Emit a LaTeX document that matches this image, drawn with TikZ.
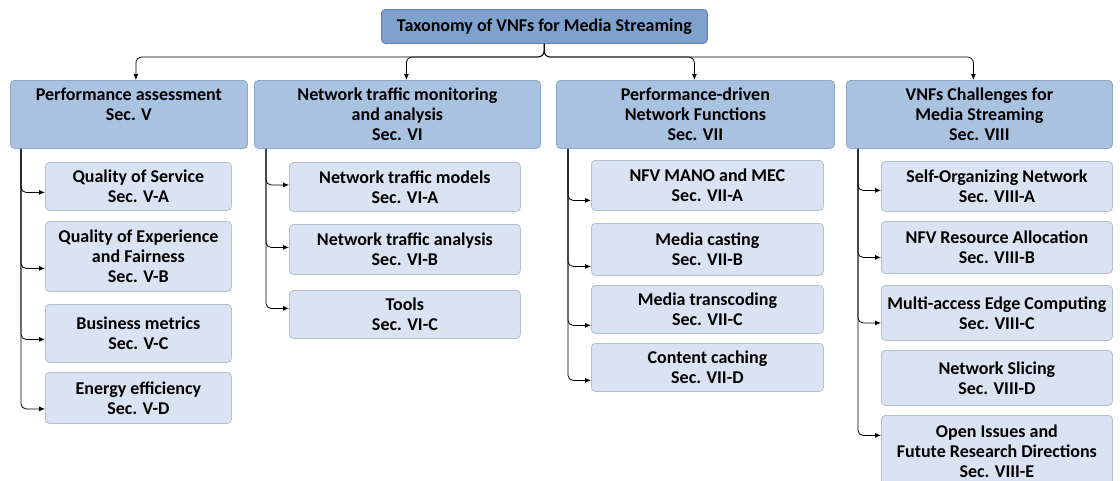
\documentclass[tikz,border=0pt]{standalone}
\usepackage{fontspec}
\setmainfont{Carlito}
\usetikzlibrary{arrows.meta}
\definecolor{rootfill}{HTML}{7EA1CD}
\definecolor{rootdraw}{HTML}{5F7FA8}
\definecolor{lonefill}{HTML}{A9C2E0}
\definecolor{lonedraw}{HTML}{8FA8C6}
\definecolor{ltwofill}{HTML}{DAE3F1}
\definecolor{ltwodraw}{HTML}{B4C0D0}
\begin{document}
\begin{tikzpicture}[x=1pt,y=-1pt,
  box/.style={rectangle, rounded corners=4pt, align=center, inner sep=0pt, anchor=north west,
    font=\bfseries\fontsize{18}{20}\selectfont, line width=0.8pt},
  rootbox/.style={box, draw=rootdraw, fill=rootfill, minimum width=326pt, minimum height=34pt},
  lone/.style={box, draw=lonedraw, fill=lonefill, minimum height=68pt},
  ltwo/.style={box, draw=ltwodraw, fill=ltwofill},
  arr/.style={-{Latex[length=6pt,width=5pt]}, line width=0.8pt, black, rounded corners=6pt},
  branch/.style={-{Latex[length=6pt,width=5pt]}, line width=0.8pt, black, rounded corners=5pt}]
\useasboundingbox (0,0) rectangle (1120,480);
\clip (0,0) rectangle (1120,480);

% root
\node[rootbox] (root) at (381,9) {Taxonomy of VNFs for Media Streaming};

% level 1
\node[lone, minimum width=237pt] (A) at (10,80) {Performance assessment\\Sec. V\\~};
\node[lone, minimum width=286pt] (B) at (254,80) {Network traffic monitoring\\and analysis\\Sec. VI};
\node[lone, minimum width=278pt] (C) at (556,80) {Performance-driven\\Network Functions\\Sec. VII};
\node[lone, minimum width=266pt] (D) at (846,80) {VNFs Challenges for\\Media Streaming\\Sec. VIII};

% level 2 under A
\node[ltwo, minimum width=186pt, minimum height=48pt] (VA) at (45,162) {Quality of Service\\Sec. V-A};
\node[ltwo, minimum width=186pt, minimum height=70pt] (VB) at (45,221) {Quality of Experience\\and Fairness\\Sec. V-B};
\node[ltwo, minimum width=186pt, minimum height=58pt] (VC) at (45,304) {Business metrics\\Sec. V-C};
\node[ltwo, minimum width=186pt, minimum height=51pt] (VD) at (45,372) {Energy efficiency\\Sec. V-D};

% level 2 under B
\node[ltwo, minimum width=231pt, minimum height=49pt] (VIA) at (289,162) {Network traffic models\\Sec. VI-A};
\node[ltwo, minimum width=231pt, minimum height=50pt] (VIB) at (289,224) {Network traffic analysis\\Sec. VI-B};
\node[ltwo, minimum width=231pt, minimum height=48pt] (VIC) at (289,290) {Tools\\Sec. VI-C};

% level 2 under C
\node[ltwo, minimum width=232pt, minimum height=50pt] (VIIA) at (591,160) {NFV MANO and MEC\\Sec. VII-A};
\node[ltwo, minimum width=232pt, minimum height=52pt] (VIIB) at (591,223) {Media casting\\Sec. VII-B};
\node[ltwo, minimum width=232pt, minimum height=48pt] (VIIC) at (591,285) {Media transcoding\\Sec. VII-C};
\node[ltwo, minimum width=232pt, minimum height=48pt] (VIID) at (591,343) {Content caching\\Sec. VII-D};

% level 2 under D
\node[ltwo, minimum width=231pt, minimum height=50pt] (VIIIA) at (881,161) {Self-Organizing Network\\Sec. VIII-A};
\node[ltwo, minimum width=231pt, minimum height=52pt] (VIIIB) at (881,221) {NFV Resource Allocation\\Sec. VIII-B};
\node[ltwo, minimum width=231pt, minimum height=55pt] (VIIIC) at (881,285) {Multi-access Edge Computing\\Sec. VIII-C};
\node[ltwo, minimum width=231pt, minimum height=55pt] (VIIID) at (881,350) {Network Slicing\\Sec. VIII-D};
\node[ltwo, minimum width=231pt, minimum height=72pt] (VIIIE) at (881,415) {Open Issues and\\Futute Research Directions\\Sec. VIII-E};

% top connectors
\coordinate (hub) at (544,57);
\draw[arr] (root.south) -- (hub) -| ([xshift=7pt]A.north);
\draw[arr] (root.south) -- (hub) -| ([xshift=9pt]B.north);
\draw[arr] (root.south) -- (hub) -| ([xshift=-1pt]C.north);
\draw[arr] (root.south) -- (hub) -| ([xshift=-6pt]D.north);

% column verticals
\coordinate (Av) at ([xshift=11pt]A.south west);
\coordinate (Bv) at ([xshift=12pt]B.south west);
\coordinate (Cv) at ([xshift=12pt]C.south west);
\coordinate (Dv) at ([xshift=12pt]D.south west);

\draw[branch] (Av) |- ([yshift=-6pt]VA.west);
\draw[branch] (Av) |- ([yshift=-12pt]VB.west);
\draw[branch] (Av) |- ([yshift=-6pt]VC.west);
\draw[branch] (Av) |- ([yshift=-11pt]VD.west);

\draw[branch] (Bv) |- ([yshift=2pt]VIA.west);
\draw[branch] (Bv) |- ([yshift=2pt]VIB.west);
\draw[branch] (Bv) |- ([yshift=6pt]VIC.west);

\draw[branch] (Cv) |- ([yshift=-15pt]VIIA.west);
\draw[branch] (Cv) |- ([yshift=-17pt]VIIB.west);
\draw[branch] (Cv) |- ([yshift=-16pt]VIIC.west);
\draw[branch] (Cv) |- ([yshift=-13pt]VIID.west);

\draw[branch] (Dv) |- ([yshift=-4pt]VIIIA.west);
\draw[branch] (Dv) |- ([yshift=-10pt]VIIIB.west);
\draw[branch] (Dv) |- ([yshift=-10pt]VIIIC.west);
\draw[branch] (Dv) |- ([yshift=16pt]VIIIE.west);
\end{tikzpicture}
\end{document}
